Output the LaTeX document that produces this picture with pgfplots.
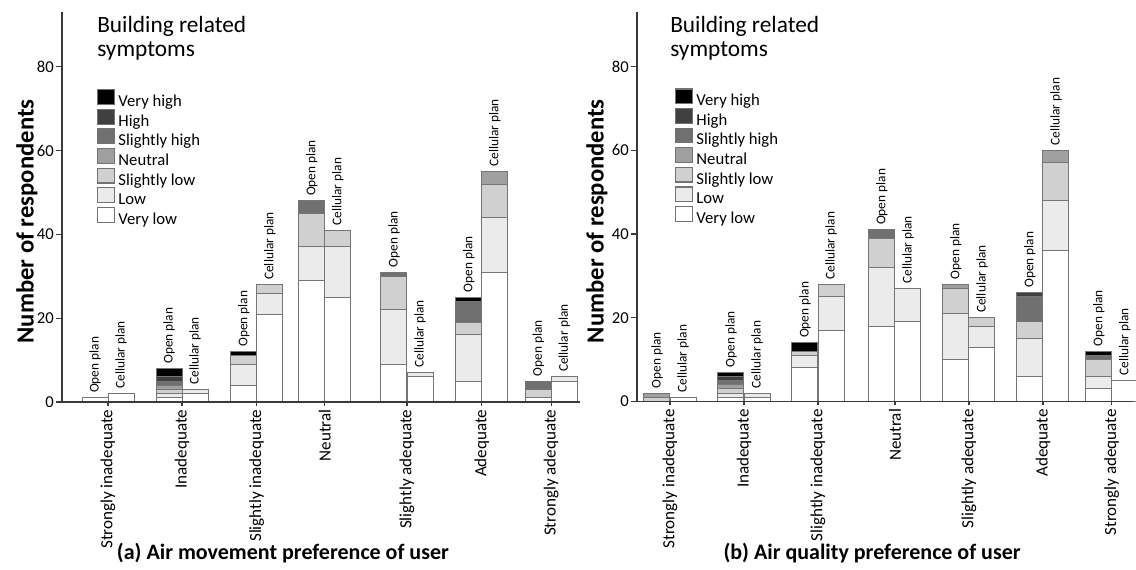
\documentclass[border=0pt]{standalone}
\usepackage{fontspec}
\setmainfont{Carlito}
\usepackage{pgfplots}
\usepackage{pgfplotstable}
\pgfplotsset{compat=1.18}

\definecolor{cVH}{HTML}{000000}
\definecolor{cH}{HTML}{404040}
\definecolor{cSH}{HTML}{707070}
\definecolor{cN}{HTML}{A0A0A0}
\definecolor{cSL}{HTML}{D0D0D0}
\definecolor{cL}{HTML}{EBEBEB}
\definecolor{cVL}{HTML}{FFFFFF}
\definecolor{barline}{HTML}{767676}
\definecolor{axline}{HTML}{3A3A3A}

% Air movement preference (panel a); tot = height of the whole bar
\pgfplotstableread[col sep=comma]{
x,vl,l,sl,n,sh,h,vh,tot,lab
-0.176,1,0,0,0,0,0,0,1,Open plan
0.176,2,0,0,0,0,0,0,2,Cellular plan
0.824,1,1,1,1,1,1,2,8,Open plan
1.176,2,1,0,0,0,0,0,3,Cellular plan
1.834,4,5,2,0,0,0,1,12,Open plan
2.186,21,5,2,0,0,0,0,28,Cellular plan
2.754,29,8,8,0,3,0,0,48,Open plan
3.106,25,12,4,0,0,0,0,41,Cellular plan
3.864,9,13,8,0,1,0,0,31,Open plan
4.216,6,1,0,0,0,0,0,7,Cellular plan
4.874,5,11,3,0,5,0,1,25,Open plan
5.226,31,13,8,3,0,0,0,55,Cellular plan
5.814,1,0,2,0,2,0,0,5,Open plan
6.166,5,1,0,0,0,0,0,6,Cellular plan
}\tableA

% Air quality preference (panel b)
\pgfplotstableread[col sep=comma]{
x,vl,l,sl,n,sh,h,vh,tot,lab
-0.176,0,0,1,1,0,0,0,2,Open plan
0.176,1,0,0,0,0,0,0,1,Cellular plan
0.824,1,1,1,1,1,1,1,7,Open plan
1.176,1,1,0,0,0,0,0,2,Cellular plan
1.824,8,3,1,0,0,0,2,14,Open plan
2.176,17,8,3,0,0,0,0,28,Cellular plan
2.864,18,14,7,0,2,0,0,41,Open plan
3.216,19,8,0,0,0,0,0,27,Cellular plan
3.864,10,11,6,1,0,0,0,28,Open plan
4.216,13,5,2,0,0,0,0,20,Cellular plan
4.864,6,9,4,0,6,1,0,26,Open plan
5.216,36,12,9,3,0,0,0,60,Cellular plan
5.794,3,3,4,0,1,0,1,12,Open plan
6.146,5,0,0,0,0,0,0,5,Cellular plan
}\tableB

\pgfplotsset{
  lvl/.style={fill=#1, draw=barline, line width=0.75pt,
    legend image code/.code={\draw[fill=#1, draw=black!55, line width=0.9pt] (0pt,-0.5pt) rectangle (12.5pt,10.5pt);}},
  lbl/.style={draw=none, mark=none,
    nodes near coords={\fontsize{10}{10}\selectfont\pgfplotspointmeta},
    point meta=explicit symbolic,
    every node near coord/.append style={rotate=90, anchor=west, inner xsep=3.5pt, inner ysep=0pt, text=black}},
  overlay/.style={scale only axis, hide axis, clip=false, ymin=0},
  panel/.style={
    scale only axis, ybar stacked, bar width=19.5pt,
    axis on top,
    axis x line*=bottom, axis y line*=left,
    axis line style={-, axline, line width=0.9pt},
    ymin=0, ytick={0,20,40,60,80},
    tick align=outside, major tick length=4.5pt,
    tick style={axline, line width=0.9pt},
    xtick style={/pgfplots/major tick length=3pt},
    /pgf/number format/assume math mode=true,
    yticklabel style={font=\fontsize{12.5}{13}\selectfont, inner sep=1.5pt},
    xticklabel style={rotate=90, anchor=east, font=\fontsize{12.8}{13}\selectfont, inner sep=1pt},
    xticklabels={Strongly inadequate, Inadequate, Slightly inadequate, Neutral, Slightly adequate, Adequate, Strongly adequate},
    ylabel={Number of respondents},
    ylabel style={font=\bfseries\fontsize{18.5}{19}\selectfont, anchor=center},
    xlabel style={font=\bfseries\fontsize{16.5}{17}\selectfont, anchor=center},
    clip=false,
    reverse legend,
    legend cell align=left,
    legend style={draw=none, fill=none, anchor=north west, inner sep=0pt, row sep=-3.4pt,
      font=\fontsize{12.5}{13}\selectfont,
      nodes={inner sep=0pt, text height=9.3pt, text depth=5pt},
      /tikz/every odd column/.append style={column sep=2.5pt}},
  }
}

\begin{document}
\begin{tikzpicture}
\path[use as bounding box] (0,0) rectangle (852pt,427.5pt);

\begin{axis}[panel,
  at={(46.5pt,126pt)}, anchor=south west,
  width=388.5pt, height=292.5pt,
  xmin=-0.622, xmax=6.378, ymax=93.1,
  xtick={0,1,2.01,2.93,4.04,5.05,5.99},
  ylabel style={at={(axis description cs:-0.0676,0.463)}},
  xlabel={(a) Air movement preference of user},
  xlabel style={at={(axis description cs:0.4266,-0.387)}},
  legend style={at={(axis description cs:0.0676,0.8026)}},
]
\addplot[lvl=cVL] table[x=x,y=vl] {\tableA}; \addlegendentry{Very low}
\addplot[lvl=cL]  table[x=x,y=l]  {\tableA}; \addlegendentry{Low}
\addplot[lvl=cSL] table[x=x,y=sl] {\tableA}; \addlegendentry{Slightly low}
\addplot[lvl=cN]  table[x=x,y=n]  {\tableA}; \addlegendentry{Neutral}
\addplot[lvl=cSH] table[x=x,y=sh] {\tableA}; \addlegendentry{Slightly high}
\addplot[lvl=cH]  table[x=x,y=h]  {\tableA}; \addlegendentry{High}
\addplot[lvl=cVH] table[x=x,y=vh] {\tableA}; \addlegendentry{Very high}
\node[anchor=north west, align=left, inner sep=0pt, font=\fontsize{17.5}{18}\selectfont]
  at (rel axis cs:0.0676,0.99) {Building related\\symptoms};
\end{axis}
\begin{axis}[overlay,
  at={(46.5pt,126pt)}, anchor=south west,
  width=388.5pt, height=292.5pt,
  xmin=-0.622, xmax=6.378, ymax=93.1]
\addplot[lbl] table[x=x,y=tot,meta=lab] {\tableA};
\end{axis}

\begin{axis}[panel,
  at={(477.75pt,126.4pt)}, anchor=south west,
  width=372pt, height=292pt,
  xmin=-0.446, xmax=6.257, ymax=93.0,
  xtick={0,1,2,3.04,4.04,5.04,5.97},
  ylabel style={at={(axis description cs:-0.0806,0.463)}},
  xlabel={(b) Air quality preference of user},
  xlabel style={at={(axis description cs:0.474,-0.389)}},
  legend style={at={(axis description cs:0.0766,0.805)}},
]
\addplot[lvl=cVL] table[x=x,y=vl] {\tableB}; \addlegendentry{Very low}
\addplot[lvl=cL]  table[x=x,y=l]  {\tableB}; \addlegendentry{Low}
\addplot[lvl=cSL] table[x=x,y=sl] {\tableB}; \addlegendentry{Slightly low}
\addplot[lvl=cN]  table[x=x,y=n]  {\tableB}; \addlegendentry{Neutral}
\addplot[lvl=cSH] table[x=x,y=sh] {\tableB}; \addlegendentry{Slightly high}
\addplot[lvl=cH]  table[x=x,y=h]  {\tableB}; \addlegendentry{High}
\addplot[lvl=cVH] table[x=x,y=vh] {\tableB}; \addlegendentry{Very high}
\node[anchor=north west, align=left, inner sep=0pt, font=\fontsize{17.5}{18}\selectfont]
  at (rel axis cs:0.0665,0.99) {Building related\\symptoms};
\end{axis}
\begin{axis}[overlay,
  at={(477.75pt,126.4pt)}, anchor=south west,
  width=372pt, height=292pt,
  xmin=-0.446, xmax=6.257, ymax=93.0]
\addplot[lbl] table[x=x,y=tot,meta=lab] {\tableB};
\end{axis}
\end{tikzpicture}
\end{document}
